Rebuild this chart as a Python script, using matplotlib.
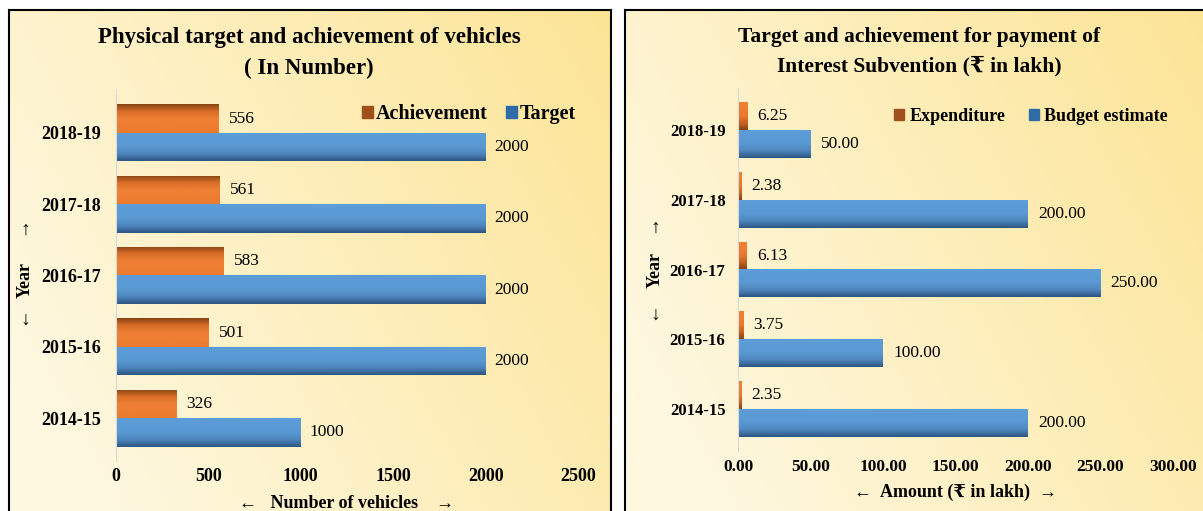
import numpy as np
import matplotlib.pyplot as plt
from matplotlib.patches import Patch
from matplotlib.colors import to_rgb

plt.rcParams['font.family'] = ['Liberation Serif', 'DejaVu Serif', 'DejaVu Sans']

years = ['2014-15', '2015-16', '2016-17', '2017-18', '2018-19']
veh_target = [1000, 2000, 2000, 2000, 2000]
veh_achieved = [326, 501, 583, 561, 556]
be_amount = [200.00, 100.00, 250.00, 200.00, 50.00]
exp_amount = [2.35, 3.75, 6.13, 2.38, 6.25]

W, H = 1203, 511
fig = plt.figure(figsize=(W / 100, H / 100), dpi=100)
fig.patch.set_facecolor('white')


def frac(x0, y0, x1, y1):
    return [x0 / W, 1 - y1 / H, (x1 - x0) / W, (y1 - y0) / H]


def ftext(x, y, s, **kw):
    fig.text(x / W, 1 - y / H, s, ha='center', va='center', **kw)


def panel(box):
    bg = fig.add_axes(frac(*box), zorder=0)
    gx = np.linspace(0, 1, 200)
    gy = np.linspace(0, 1, 100)
    X, Y = np.meshgrid(gx, gy)
    t = np.clip(0.75 * X + 0.35 * (1 - Y) - 0.1, 0, 1)
    c0 = np.array([254, 248, 225]) / 255
    c1 = np.array([252, 228, 150]) / 255
    img = c0 + (c1 - c0) * t[..., None]
    bg.imshow(img, aspect='auto', extent=[0, 1, 0, 1], origin='upper')
    bg.set_xticks([])
    bg.set_yticks([])
    for s in bg.spines.values():
        s.set_color('black')
        s.set_linewidth(1.5)
    return bg


def shade(ax, bars, stops):
    # vertical gradient inside each bar, stops listed from top to bottom
    cols = np.array([to_rgb(c) for c in stops])
    n = 40
    t = np.linspace(0, 1, n)
    xs = np.linspace(0, 1, len(cols))
    img = np.stack([np.interp(t, xs, cols[:, k]) for k in range(3)], axis=1)[:, None, :]
    for b in bars:
        x0, y0 = b.get_x(), b.get_y()
        im = ax.imshow(img, aspect='auto', origin='lower',
                       extent=[x0, x0 + b.get_width(), y0 + b.get_height(), y0],
                       zorder=b.get_zorder() + 0.1)
        im.set_clip_path(b)


panel((9, 10, 611, 515))
panel((625, 10, 1207, 515))

pos = np.arange(len(years))
h = 0.40
orange = '#ED7D31'
blue = '#5B9BD5'
bold = dict(fontweight='bold')
orange_dark_top = ['#8A4514', '#D86E28', '#EE7F33', '#EE7F33', '#E97A2E']
orange_dark_bot = ['#EE7F33', '#EE7F33', '#E8792D', '#C7631F', '#8A4514']
blue_dark_bot = ['#5E9DD7', '#5B9BD5', '#5A98D2', '#4E86BC', '#2E5683']

# left chart
ax = fig.add_axes(frac(116, 90, 578, 461), zorder=2)
ax.patch.set_alpha(0)
b1 = ax.barh(pos + h / 2, veh_achieved, height=h, color=orange, linewidth=0)
b2 = ax.barh(pos - h / 2, veh_target, height=h, color=blue, linewidth=0)
shade(ax, b1, orange_dark_top)
shade(ax, b2, blue_dark_bot)
for p, v in zip(pos, veh_achieved):
    ax.text(v + 55, p + h / 2, str(v), va='center', ha='left', fontsize=12.5)
for p, v in zip(pos, veh_target):
    ax.text(v + 45, p - h / 2, str(v), va='center', ha='left', fontsize=12.5)
ax.set_xlim(0, 2500)
ax.set_ylim(-0.6, 4.6)
ax.set_yticks(pos)
ax.set_yticklabels(years, fontsize=13, **bold)
ax.set_xticks(np.arange(0, 2501, 500))
ax.set_xticklabels([str(v) for v in range(0, 2501, 500)], fontsize=13, **bold)
ax.tick_params(axis='x', length=0, pad=5)
ax.tick_params(axis='y', length=0, pad=11)
for s in ['top', 'right', 'bottom']:
    ax.spines[s].set_visible(False)
ax.spines['left'].set_color('#d9d9d9')
ax.set_xlabel('←   Number of vehicles    →', fontsize=13, labelpad=7, **bold)
ftext(309, 38, 'Physical target and achievement of vehicles', fontsize=16.5, **bold)
ftext(309, 68, '( In Number)', fontsize=16.5, **bold)
ftext(25, 280, 'Year', rotation=90, fontsize=13, **bold)
ftext(25, 230, '↑', fontsize=14)
ftext(25, 320, '↓', fontsize=14)
ax.legend(handles=[Patch(color='#A0501A', label='Achievement'),
                   Patch(color='#2E6BA8', label='Target')],
          loc='upper right', bbox_to_anchor=(1.035, 1.01), ncol=2, frameon=False,
          prop=dict(size=14.5, weight='bold'), handlelength=0.55, handleheight=0.55,
          handletextpad=0.15, columnspacing=0.9)

# right chart
ax2 = fig.add_axes(frac(738, 88, 1173, 451), zorder=2)
ax2.patch.set_alpha(0)
c1 = ax2.barh(pos + h / 2, exp_amount, height=h, color=orange, linewidth=0)
c2 = ax2.barh(pos - h / 2, be_amount, height=h, color=blue, linewidth=0)
shade(ax2, c1, orange_dark_bot)
shade(ax2, c2, blue_dark_bot)
for p, v in zip(pos, exp_amount):
    ax2.text(v + 7, p + h / 2, f'{v:.2f}', va='center', ha='left', fontsize=12.5)
for p, v in zip(pos, be_amount):
    ax2.text(v + 7, p - h / 2, f'{v:.2f}', va='center', ha='left', fontsize=12.5)
ax2.set_xlim(0, 300)
ax2.set_ylim(-0.6, 4.6)
ax2.set_yticks(pos)
ax2.set_yticklabels(years, fontsize=12, **bold)
ax2.set_xticks(np.arange(0, 301, 50))
ax2.set_xticklabels([f'{v:.2f}' for v in range(0, 301, 50)], fontsize=12.5, **bold)
ax2.tick_params(axis='x', length=0, pad=6)
ax2.tick_params(axis='y', length=0, pad=9)
for s in ['top', 'right', 'bottom']:
    ax2.spines[s].set_visible(False)
ax2.spines['left'].set_color('#d9d9d9')
ax2.set_xlabel('←  Amount (₹ in lakh)  →', fontsize=13, labelpad=6, **bold)
ftext(919, 37, 'Target and achievement for payment of', fontsize=15.5, **bold)
ftext(919, 66, 'Interest Subvention (₹ in lakh)', fontsize=15.5, **bold)
ftext(655, 270, 'Year', rotation=90, fontsize=13, **bold)
ftext(655, 228, '↑', fontsize=14)
ftext(655, 315, '↓', fontsize=14)
ax2.legend(handles=[Patch(color='#A0501A', label='Expenditure'),
                    Patch(color='#2E6BA8', label='Budget estimate')],
           loc='upper right', bbox_to_anchor=(1.025, 0.99), ncol=2, frameon=False,
           prop=dict(size=13, weight='bold'), handlelength=0.55, handleheight=0.55,
           handletextpad=0.3, columnspacing=1.3)

fig.savefig('out.png', dpi=100)
